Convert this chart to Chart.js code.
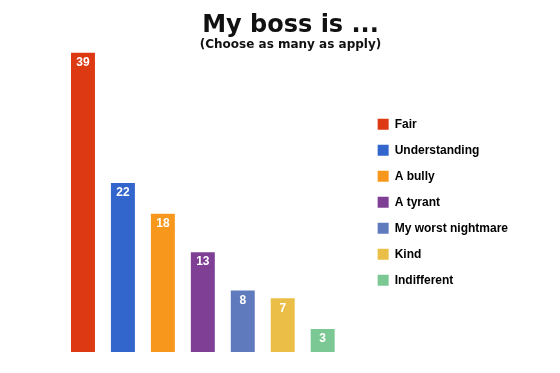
<!DOCTYPE html>
<html>
<head>
<meta charset="utf-8">
<script src="https://cdn.jsdelivr.net/npm/chart.js@4"></script>
<style>
  html, body { margin: 0; padding: 0; background: #fff; }
  #wrap { width: 560px; height: 373px; }
</style>
</head>
<body>
<div id="wrap"><canvas id="myChart" width="560" height="373"></canvas></div>
<script>
'use strict';
// answers and counts
let answers = ['Fair', 'Understanding', 'A bully', 'A tyrant', 'My worst nightmare', 'Kind', 'Indifferent'];
let counts = [39, 22, 18, 13, 8, 7, 3];
let barColors = ['#dd3a14', '#3366cc', '#f7981d', '#7f3f95', '#5f7bbe', '#ebbe47', '#7cc894'];

// white value labels near the top of each bar
let valueLabels = {
    id: 'valueLabels',
    afterDatasetsDraw(chart) {
        let ctx = chart.ctx;
        let meta = chart.getDatasetMeta(0);
        ctx.save();
        ctx.fillStyle = '#fff';
        ctx.font = 'bold 12px "Liberation Sans", Arial, sans-serif';
        ctx.textAlign = 'center';
        ctx.textBaseline = 'middle';
        meta.data.forEach(function (bar, i) {
            ctx.fillText(counts[i], bar.x, bar.y + 10);
        });
        ctx.restore();
    }
};

let ctx = document.getElementById('myChart').getContext('2d');
let myChart = new Chart(ctx, {
    type: 'bar',
    data: {
        labels: answers,
        datasets: [{
            data: counts,
            backgroundColor: barColors,
            borderWidth: 0,
            categoryPercentage: 1,
            barPercentage: 0.6
        }]
    },
    options: {
        responsive: false,
        animation: false,
        layout: { padding: { left: 63, right: 42, bottom: 21, top: 0 } },
        scales: {
            x: { display: false },
            y: {
                position: 'right',
                min: 0,
                max: 39,
                grid: { display: false },
                border: { display: false },
                ticks: { display: false },
                // empty gap between bars and legend
                afterFit: function (scale) { scale.width = 21; }
            }
        },
        plugins: {
            tooltip: { enabled: false },
            title: {
                display: true,
                text: 'My boss is ...',
                color: '#111',
                font: { family: '"DejaVu Sans", sans-serif', size: 24, weight: 'bold', lineHeight: 1.0 },
                padding: { top: 14, bottom: 0 }
            },
            subtitle: {
                display: true,
                text: '(Choose as many as apply)',
                color: '#111',
                font: { family: '"DejaVu Sans", sans-serif', size: 12, weight: 'bold', lineHeight: 1.2 },
                padding: { top: 0, bottom: 0 }
            },
            legend: {
                position: 'right',
                fullSize: false,
                maxWidth: 220,
                labels: {
                    boxWidth: 11,
                    boxHeight: 11,
                    padding: 14,
                    color: '#111',
                    font: { family: '"Liberation Sans", Arial, sans-serif', size: 12, weight: 'bold' },
                    generateLabels: function (chart) {
                        return chart.data.labels.map(function (name, i) {
                            return {
                                text: name,
                                fillStyle: barColors[i],
                                strokeStyle: barColors[i],
                                lineWidth: 0,
                                index: i
                            };
                        });
                    }
                }
            }
        }
    },
    plugins: [valueLabels]
});
</script>
</body>
</html>
